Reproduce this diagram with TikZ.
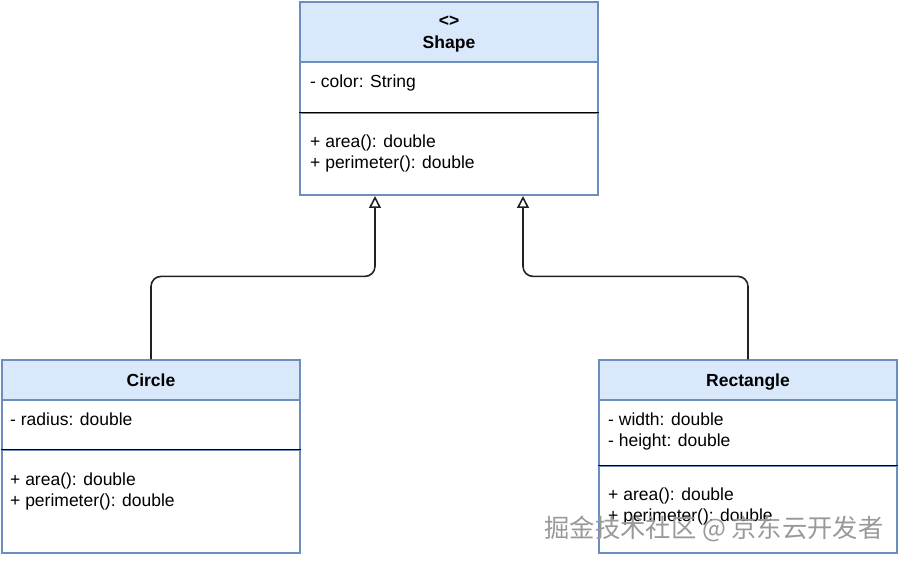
\documentclass[tikz,border=0pt]{standalone}
\usepackage{fontspec}
\setmainfont{Liberation Sans}
\newfontfamily\cjkfont{Noto Sans CJK SC}
\usepackage{tikz}
\usetikzlibrary{arrows.meta}

\definecolor{headfill}{HTML}{DAE8FC}
\definecolor{boxline}{HTML}{6C8EBF}
\definecolor{wireline}{HTML}{222222}

\tikzset{
  compart/.style={draw=boxline, line width=1.2pt, minimum width=298, inner sep=0pt},
  headbox/.style={compart, fill=headfill, font=\fontsize{17.5}{22}\selectfont\bfseries, align=center},
  member/.style={anchor=base west, inner sep=0pt, font=\fontsize{17.5}{21}\selectfont},
  sepline/.style={line width=1.2pt, black},
  inherit/.style={draw=wireline, line width=1.6pt, rounded corners=10,
    -{Triangle[open, length=12, width=12, fill=white]}},
}

\begin{document}
\begin{tikzpicture}[x=1pt,y=1pt,yscale=-1]
\useasboundingbox (0,0) rectangle (900,561);

%Shape class
\node [headbox, minimum height=60] (shapeHead) at (449,32) {};
\node [inner sep=0pt, align=center, font=\fontsize{17.5}{22}\selectfont\bfseries] (shapeName) at (449,34) {\textless\textgreater\\Shape};
\node [compart, minimum height=51] (shapeAttr) at (449,87.5) {};
\node [compart, minimum height=82] (shapeOps) at (449,154) {};
\draw [sepline] (shapeOps.north west) -- (shapeOps.north east);
\node [member] (shapeA1) at (310,88) {- color: String};
\node [member] (shapeM1) at (310,148) {+ area(): double};
\node [member] (shapeM2) at (310,169) {+ perimeter(): double};

%Circle class
\node [headbox, minimum height=40, text height=13, text depth=0] (circleHead) at (151,380) {Circle};
\node [compart, minimum height=50] (circleAttr) at (151,425) {};
\node [compart, minimum height=103] (circleOps) at (151,501.5) {};
\draw [sepline] (circleOps.north west) -- (circleOps.north east);
\node [member] (circleA1) at (10,425) {- radius: double};
\node [member] (circleM1) at (10,485) {+ area(): double};
\node [member] (circleM2) at (10,506) {+ perimeter(): double};

%Rectangle class
\node [headbox, minimum height=40, text height=13, text depth=0] (rectHead) at (748,380) {Rectangle};
\node [compart, minimum height=66] (rectAttr) at (748,433) {};
\node [compart, minimum height=87] (rectOps) at (748,509.5) {};
\draw [sepline] (rectOps.north west) -- (rectOps.north east);
\node [member] (rectA1) at (608,425) {- width: double};
\node [member] (rectA2) at (608,446) {- height: double};
\node [member] (rectM1) at (608,500) {+ area(): double};
\node [member] (rectM2) at (608,521) {+ perimeter(): double};

%Generalisation
\coordinate (shapeL) at (375,196);
\coordinate (shapeR) at (523,196);
\draw [inherit] (circleHead.north) -- ++(0,-83) -| (shapeL);
\draw [inherit] (rectHead.north) -- ++(0,-83) -| (shapeR);

%watermark
\node [anchor=center, inner sep=0pt, text=black!40, font=\cjkfont\fontsize{25.3}{27}\selectfont] (mark) at (714,529) {掘金技术社区 @ 京东云开发者};

\end{tikzpicture}
\end{document}
